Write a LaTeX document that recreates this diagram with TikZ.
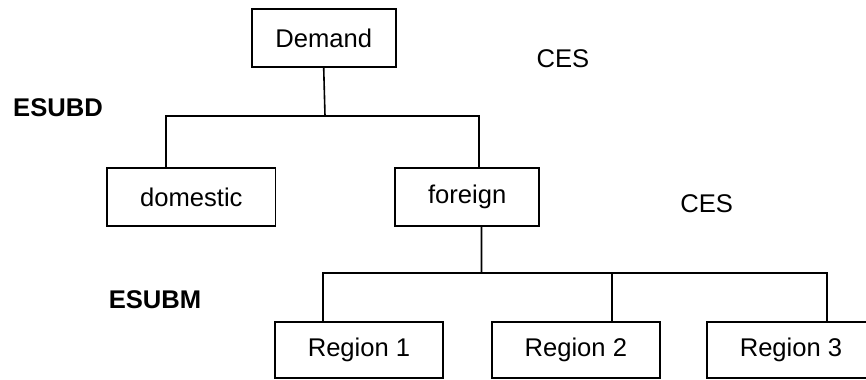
\documentclass[tikz,border=0pt]{standalone}
\usepackage{fontspec}
\setmainfont{Liberation Sans}
\usetikzlibrary{calc}
\usetikzlibrary{positioning}

\tikzset{
 box/.style={draw, line width=1.2pt, inner sep=0pt, minimum height=43.5pt, font=\fontsize{19.2}{23}\selectfont},
 wbox/.style={box, minimum width=126.5pt},
 nbox/.style={box, minimum width=108pt},
 rbox/.style={box, minimum width=126pt, minimum height=42pt},
 lab/.style={inner sep=0pt, font=\fontsize{19.2}{23}\selectfont},
 blab/.style={lab, font=\fontsize{19.2}{23}\selectfont\bfseries},
 link/.style={line width=1.2pt},
}

\begin{document}
\begin{tikzpicture} [x=.75pt, y=-.75pt]
\useasboundingbox (0,0) rectangle (866,379);
\node[nbox] (demand) at (323.7,38) {Demand};
\node[wbox] (domestic) at (191.3,197) {domestic};
\node[nbox] (foreign) at (467.2,197) {foreign};
\node[rbox] (reg1) at (359,350) {Region 1};
\node[rbox] (reg2) at (575.8,350) {Region 2};
\node[rbox] (reg3) at (791,350) {Region 3};
\node[blab] (esubd) at (58,107.7) {ESUBD};
\node[blab] (esubm) at (155,300) {ESUBM};
\node[lab] (ces1) at (563,58.7) {CES};
\node[lab] (ces2) at (706.7,204) {CES};
\coordinate (topbar) at (325,116);
\coordinate (lowbar) at (481.5,273);
\coordinate (r2top) at ($(reg2.north)+(36,0)$);
\draw[link] (demand.south) -- (topbar);
\draw[link] ($(domestic.north)+(-25.3,0)$) |- (topbar) -| ($(foreign.north)+(11.8,0)$);
\draw[link] ($(foreign.south)+(14.3,0)$) -- (lowbar);
\draw[link] ($(reg1.north)+(-36.3,0)$) |- (lowbar) -| ($(reg3.north)+(36,0)$);
\draw[link] (r2top) -- (r2top |- lowbar);
\end{tikzpicture}
\end{document}
